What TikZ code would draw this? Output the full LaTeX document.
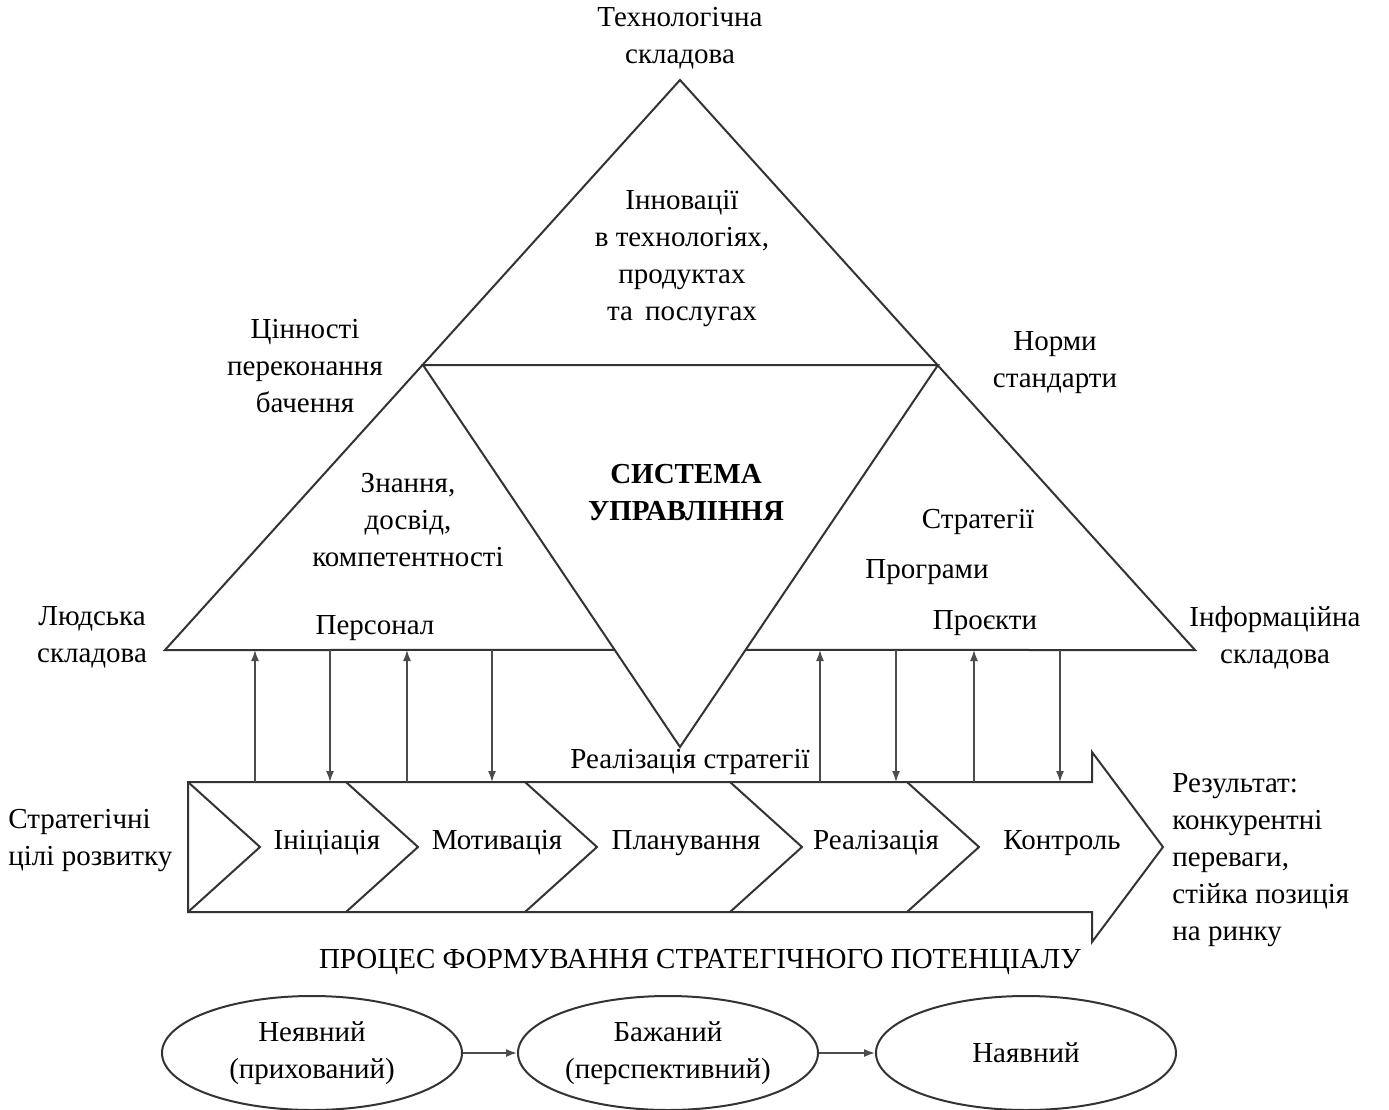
\documentclass[tikz,border=0pt]{standalone}
\usepackage{fontspec}
\setmainfont{Liberation Serif}
\usetikzlibrary{shapes,arrows.meta,positioning,calc}
\tikzset{
    txt/.style={align=center, inner sep=0pt, font=\fontsize{14.5}{18.5}\selectfont},
    boldtxt/.style={txt, font=\fontsize{14.5}{18.5}\selectfont\bfseries},
    outline/.style={draw=black!80, line width=1pt, line join=miter},
    link/.style={draw=black!70, -{Latex[length=5.5pt, width=4pt]}, line width=0.75pt},
    phase/.style={draw=black!80, ellipse, line width=1pt, txt, minimum width=150pt, minimum height=57pt}
}

\begin{document}
\begin{tikzpicture}[x=0.5pt, y=-0.5pt]
    \useasboundingbox (0,0) rectangle (1389,1110);

    % triangle frame
    \coordinate (apex) at (680,80);
    \coordinate (hl) at (423,365);
    \coordinate (hr) at (938,365);
    \coordinate (bl) at (165,650);
    \coordinate (br) at (1195,650);
    \coordinate (vtip) at (680,747);
    \coordinate (gl) at ($(hl)!0.746!(vtip)$);
    \coordinate (gr) at ($(hr)!0.746!(vtip)$);
    \draw [outline] (gl) -- (bl) -- (apex) -- (br) -- (gr);
    \draw [outline] (hl) -- (hr) -- (vtip) -- cycle;

    \node [txt] (tech) at (680,38) {Технологічна\\складова};
    \node [txt] (innov) at (682,259) {Інновації\\в технологіях,\\продуктах\\та\, послугах};
    \node [txt] (values) at (305,366) {Цінності\\переконання\\бачення};
    \node [txt] (norms) at (1055,363) {Норми\\стандарти};
    \node [boldtxt] (system) at (686,493) {СИСТЕМА\\УПРАВЛІННЯ};
    \node [txt] (know) at (408,520) {Знання,\\досвід,\\компетентності};
    \node [txt] (staff) at (375,628) {Персонал};
    \node [txt] (strat) at (978,522) {Стратегії};
    \node [txt] (progs) at (927,572) {Програми};
    \node [txt] (projs) at (985,623) {Проєкти};
    \node [txt] (human) at (92,637) {Людська\\складова};
    \node [txt] (info) at (1275,638) {Інформаційна\\складова};

    % process arrow
    \draw [outline] (188,782) -- (1092,782) -- (1092,752) -- (1163,847)
        -- (1092,942) -- (1092,912) -- (188,912) -- cycle;
    \foreach \x in {188,346,525,730,907}
        \draw [outline] (\x,782) -- ++(72,65) -- (\x,912);

    \node [txt] (init) at (327,843) {Ініціація};
    \node [txt] (motiv) at (497,843) {Мотивація};
    \node [txt] (plan) at (686,843) {Планування};
    \node [txt] (real) at (876,843) {Реалізація};
    \node [txt] (ctrl) at (1062,843) {Контроль};
    \node [txt] (impl) at (690,762) {Реалізація стратегії};
    \node [txt, align=left, anchor=west] (goals) at (8,841) {Стратегічні\\цілі розвитку};
    \node [txt, align=left, anchor=west] (result) at (1172,860)
        {Результат:\\конкурентні\\переваги,\\стійка позиція\\на ринку};
    \node [txt] (process) at (700,962) {ПРОЦЕС ФОРМУВАННЯ СТРАТЕГІЧНОГО ПОТЕНЦІАЛУ};

    % links between triangle and process
    \foreach \x [count=\i] in {255,407,820,974} {
        \coordinate (ub\i) at (\x,782);
        \coordinate (ut\i) at (\x,650);
        \path [link] (ub\i) -- (ut\i);
    }
    \foreach \x [count=\i] in {330,492,896,1060} {
        \coordinate (dt\i) at (\x,650);
        \coordinate (db\i) at (\x,782);
        \path [link] (dt\i) -- (db\i);
    }

    % potential states
    \node [phase] (hidden) at (312,1053) {Неявний\\(прихований)};
    \node [phase] (wanted) at (668,1053) {Бажаний\\(перспективний)};
    \node [phase] (actual) at (1026,1053) {Наявний};
    \path [link] (hidden) -- (wanted);
    \path [link] (wanted) -- (actual);
\end{tikzpicture}
\end{document}
